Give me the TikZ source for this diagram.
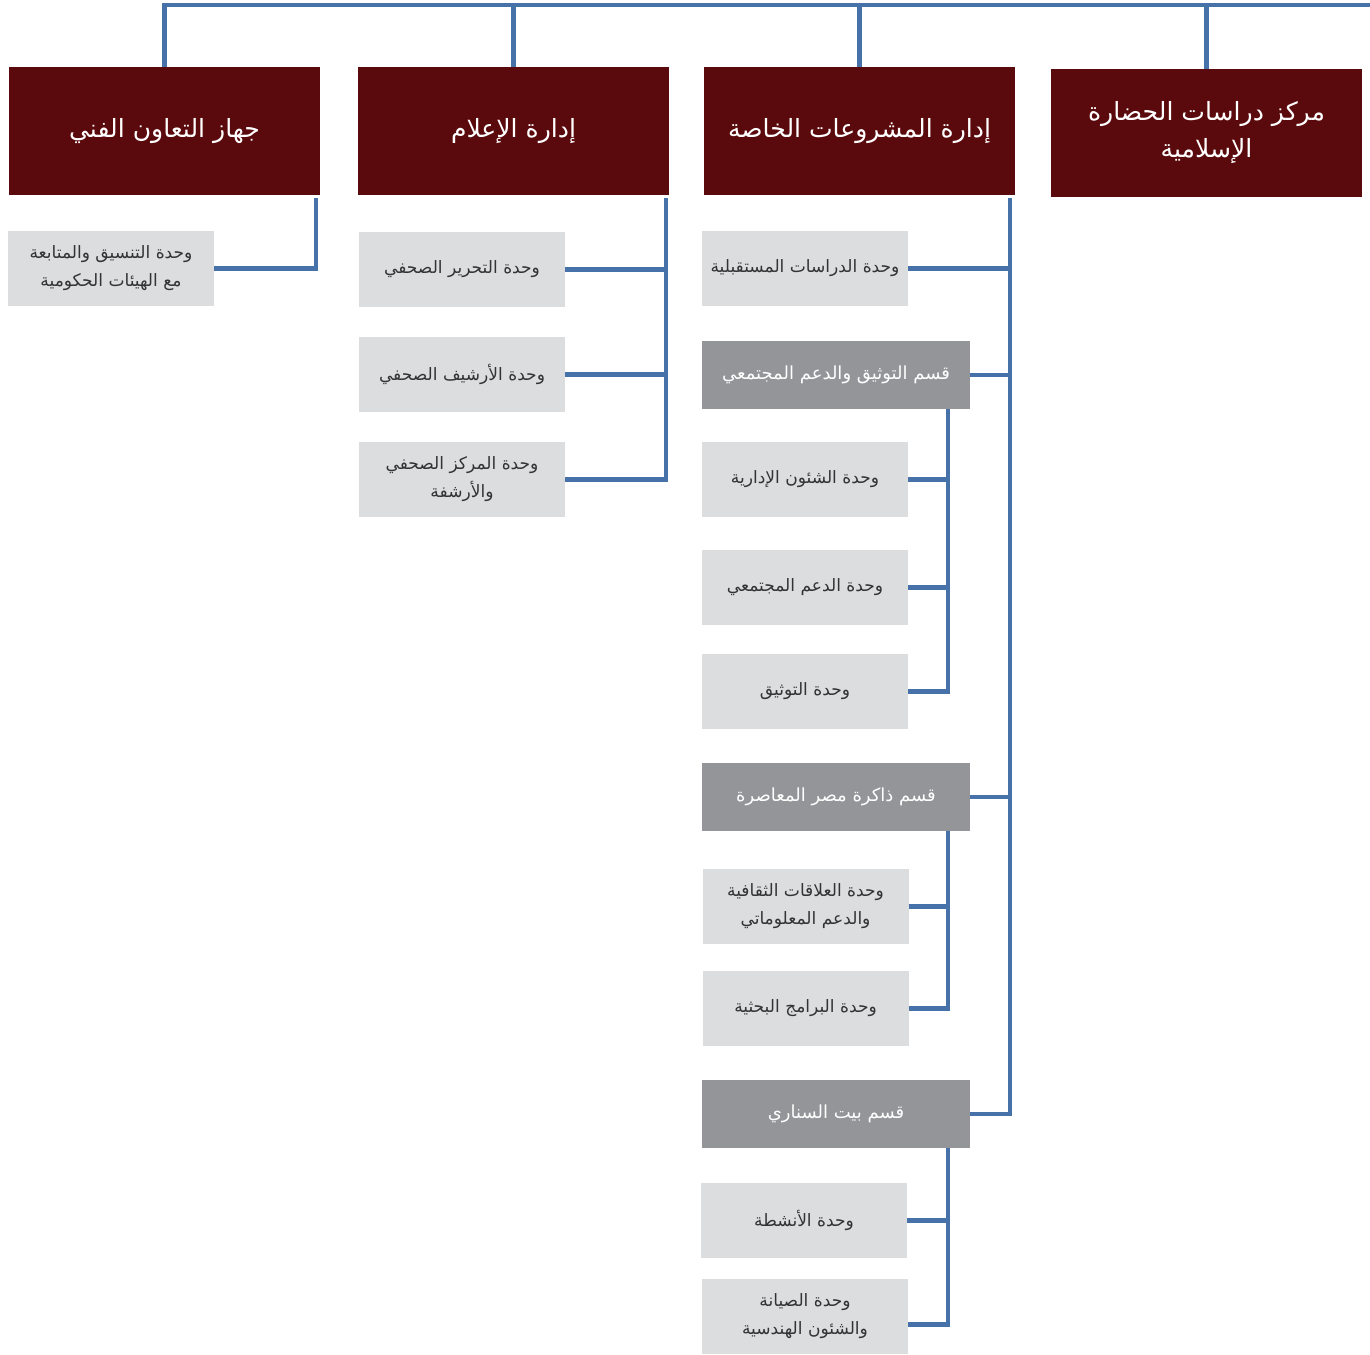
\documentclass[tikz,border=0pt]{standalone}
\usepackage{fontspec}
\newfontfamily\arabicfont[Script=Arabic]{DejaVu Sans}
\TeXXeTstate=1
\newcommand{\artxt}[1]{\beginR #1\endR}
\definecolor{topred}{HTML}{5A0A0C}
\definecolor{secgray}{HTML}{939598}
\definecolor{unitgray}{HTML}{DCDDDF}
\definecolor{linkblue}{HTML}{4672A9}
\definecolor{unittext}{HTML}{333333}
\begin{document}
\begin{tikzpicture}[x=0.75pt,y=-0.75pt,
 conn/.style={draw=linkblue, line width=3.2pt, line join=miter},
 topbox/.style={fill=topred, text=white, minimum width=233.25pt, minimum height=96pt, inner sep=0pt, outer sep=0pt, align=center, font=\arabicfont\fontsize{18.8}{28}\selectfont},
 secbox/.style={fill=secgray, text=white, minimum width=201pt, minimum height=51pt, inner sep=0pt, outer sep=0pt, align=center, font=\arabicfont\fontsize{13.5}{19}\selectfont},
 unitbox/.style={fill=unitgray, text=unittext, minimum width=154.5pt, minimum height=56.25pt, inner sep=0pt, outer sep=0pt, align=center, font=\arabicfont\fontsize{12.8}{21}\selectfont}]
\useasboundingbox (0,0) rectangle (1370,1354);
% top boxes
\node[topbox] (t1) at (164.5,131) {\artxt{جهاز التعاون الفني}};
\node[topbox] (t2) at (513.5,131) {\artxt{إدارة الإعلام}};
\node[topbox] (t3) at (859.5,131) {\artxt{إدارة المشروعات الخاصة}};
\node[topbox] (t4) at (1206.5,132.5) {\artxt{مركز دراسات الحضارة}\\\artxt{الإسلامية}};
% column 1
\node[unitbox] (u11) at (111,268.5) {\artxt{وحدة التنسيق والمتابعة}\\\artxt{مع الهيئات الحكومية}};
% column 2
\node[unitbox] (u21) at (462,269.5) {\artxt{وحدة التحرير الصحفي}};
\node[unitbox] (u22) at (462,374.5) {\artxt{وحدة الأرشيف الصحفي}};
\node[unitbox] (u23) at (462,479.5) {\artxt{وحدة المركز الصحفي}\\\artxt{والأرشفة}};
% column 3
\node[unitbox] (u31) at (805,268.5) {\artxt{وحدة الدراسات المستقبلية}};
\node[secbox] (s1) at (836,375) {\artxt{قسم التوثيق والدعم المجتمعي}};
\node[unitbox] (u32) at (805,479.5) {\artxt{وحدة الشئون الإدارية}};
\node[unitbox] (u33) at (805,587.5) {\artxt{وحدة الدعم المجتمعي}};
\node[unitbox] (u34) at (805,691.5) {\artxt{وحدة التوثيق}};
\node[secbox] (s2) at (836,797) {\artxt{قسم ذاكرة مصر المعاصرة}};
\node[unitbox] (u35) at (805.5,906.5) {\artxt{وحدة العلاقات الثقافية}\\\artxt{والدعم المعلوماتي}};
\node[unitbox] (u36) at (805.5,1008.5) {\artxt{وحدة البرامج البحثية}};
\node[secbox] (s3) at (836,1114) {\artxt{قسم بيت السناري}};
\node[unitbox] (u37) at (804,1220.5) {\artxt{وحدة الأنشطة}};
\node[unitbox] (u38) at (805,1316.5) {\artxt{وحدة الصيانة}\\\artxt{والشئون الهندسية}};
% coordinates
\coordinate (bus) at (164,5);
\coordinate (busend) at (1370,5);
\coordinate (v1) at (316,198);
\coordinate (v2) at (666,198);
\coordinate (v3) at (1010,198);
\coordinate (w1) at (948,409);
\coordinate (w2) at (948,831);
\coordinate (w3) at (948,1148);
\coordinate (u38e) at ([yshift=-6pt]u38.east);
% connectors
\draw[conn] (t1.north) -- (t1.north |- bus) -- (busend);
\draw[conn] (t2.north) -- (t2.north |- bus);
\draw[conn] (t3.north) -- (t3.north |- bus);
\draw[conn] (t4.north) -- (t4.north |- bus);
\draw[conn] (v1) -- (v1 |- u11.east) -- (u11.east);
\draw[conn] (v2) -- (v2 |- u23.east) -- (u23.east);
\draw[conn] (u21.east) -- (u21.east -| v2);
\draw[conn] (u22.east) -- (u22.east -| v2);
\draw[conn] (v3) -- (v3 |- s3.east) -- (s3.east);
\draw[conn] (u31.east) -- (u31.east -| v3);
\draw[conn] (s1.east) -- (s1.east -| v3);
\draw[conn] (s2.east) -- (s2.east -| v3);
\draw[conn] (w1) -- (w1 |- u34.east) -- (u34.east);
\draw[conn] (u32.east) -- (u32.east -| w1);
\draw[conn] (u33.east) -- (u33.east -| w1);
\draw[conn] (w2) -- (w2 |- u36.east) -- (u36.east);
\draw[conn] (u35.east) -- (u35.east -| w2);
\draw[conn] (w3) -- (w3 |- u38e) -- (u38e);
\draw[conn] (u37.east) -- (u37.east -| w3);
\end{tikzpicture}
\end{document}
